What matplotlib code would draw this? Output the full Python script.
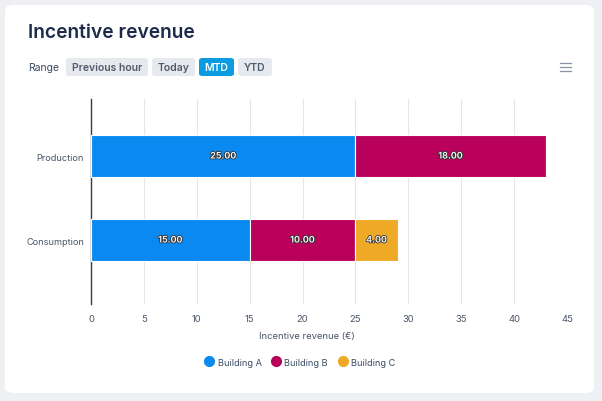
import matplotlib.pyplot as plt
import matplotlib.patheffects as pe
from matplotlib.patches import FancyBboxPatch
from matplotlib.lines import Line2D

plt.rcParams['font.family'] = ['Inter', 'DejaVu Sans']

categories = ["Production", "Consumption"]
buildings = ["Building A", "Building B", "Building C"]
values_a = [25, 15]
values_b = [18, 10]
values_c = [0, 4]
colors = ["#0a8af0", "#b9005a", "#eeaa27"]
range_buttons = ["Previous hour", "Today", "MTD", "YTD"]
active_button = "MTD"

W, H = 602, 402
fig = plt.figure(figsize=(W / 100, H / 100), dpi=100)
fig.patch.set_facecolor("#eef0f3")

# white card
card = FancyBboxPatch((5 / W, 8 / H), 589 / W, 388 / H,
                      boxstyle="round,pad=0,rounding_size=0.015",
                      transform=fig.transFigure, facecolor="white",
                      edgecolor="none", zorder=-5)
fig.patches.append(card)

fig.text(28 / W, 1 - 33 / H, "Incentive revenue", fontsize=13.8, fontweight="semibold",
         color="#1c2b4a", va="center", ha="left")

# range selector
fig.text(28 / W, 1 - 68 / H, "Range", fontsize=7.5, color="#3b4a63", va="center")
btn_x = [66, 152, 199, 238]
btn_w = [82, 43, 35, 34]
for label, x0, w in zip(range_buttons, btn_x, btn_w):
    active = label == active_button
    fig.patches.append(FancyBboxPatch((x0 / W, 1 - 77 / H), w / W, 18 / H,
                                      boxstyle="round,pad=0,rounding_size=0.006",
                                      transform=fig.transFigure,
                                      facecolor="#0a9be0" if active else "#e6e9ee",
                                      edgecolor="none", zorder=-4))
    fig.text((x0 + w / 2) / W, 1 - 68 / H, label, fontsize=7.5, fontweight="semibold",
             color="white" if active else "#4f5b6e", ha="center", va="center")

# menu icon
for dy in (-4, 0, 4):
    fig.add_artist(Line2D([560 / W, 571 / W], [1 - (68 + dy) / H] * 2,
                          transform=fig.transFigure, color="#8a94a6", lw=0.9))

ax = fig.add_axes([91 / W, 1 - 305 / H, 476 / W, 205 / H])
ax.set_facecolor("none")
y = list(range(len(categories)))
left = [0] * len(categories)
for vals, name, col in zip([values_a, values_b, values_c], buildings, colors):
    ax.barh(y, vals, left=left, height=0.49, color=col, edgecolor="white",
            linewidth=0.8, label=name, zorder=3)
    for yi, v, l in zip(y, vals, left):
        if v > 0:
            ax.text(l + v / 2, yi, f"{v:.2f}", ha="center", va="center", fontsize=6.5,
                    fontweight="semibold", color="white", zorder=4,
                    path_effects=[pe.withStroke(linewidth=1.2, foreground="#333333")])
    left = [a + b for a, b in zip(left, vals)]

ax.set_xlim(0, 45)
ax.set_ylim(1.762, -0.679)
ax.set_xticks(range(0, 46, 5))
ax.set_yticks(y)
ax.set_yticklabels(categories)
ax.tick_params(axis="both", length=0, labelsize=6.8, colors="#4a5568")
ax.tick_params(axis="x", pad=7)
ax.tick_params(axis="y", pad=5, labelsize=6.6)
ax.grid(axis="x", color="#e6e6e6", linewidth=0.8, zorder=0)
for s in ["top", "right", "bottom"]:
    ax.spines[s].set_visible(False)
ax.spines["left"].set_color("#333d50")
ax.spines["left"].set_linewidth(1)

fig.text(307 / W, 1 - 337 / H, "Incentive revenue (€)", fontsize=6.8, color="#4a5568",
         ha="center", va="center")

handles = [Line2D([], [], marker="o", linestyle="none", markersize=7,
                  markerfacecolor=c, markeredgecolor=c) for c in colors]
fig.legend(handles, buildings, loc="center", bbox_to_anchor=(300 / W, 1 - 363 / H),
           ncol=3, frameon=False, fontsize=6.6, labelcolor="#3b4a63",
           handletextpad=0.4, columnspacing=1.1, handlelength=1)

fig.savefig("out.png", dpi=100, facecolor=fig.get_facecolor())
